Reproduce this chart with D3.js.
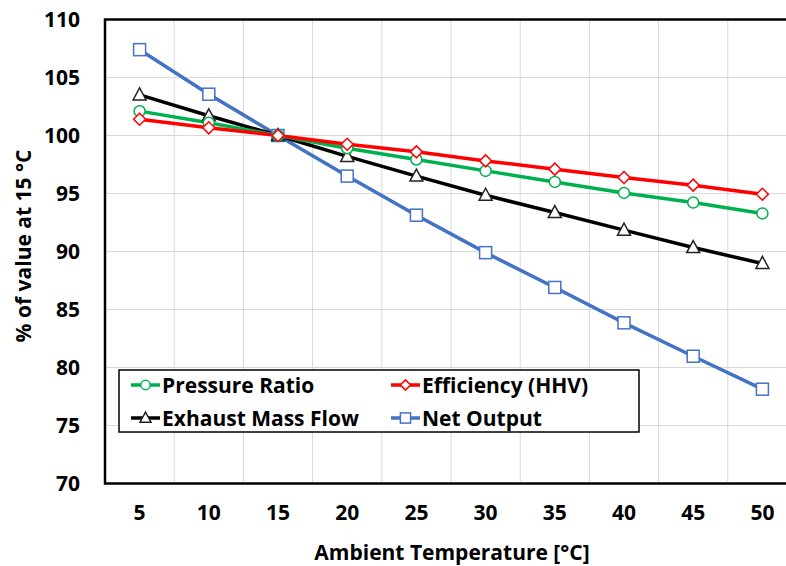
<!DOCTYPE html>
<html><head><meta charset="utf-8">
<script src="https://cdn.jsdelivr.net/npm/d3@7"></script>
<style>html,body{margin:0;padding:0;background:#fff;overflow:hidden}</style>
</head><body>
<svg id="c" width="786" height="566"></svg>
<script>
const temps = [5,10,15,20,25,30,35,40,45,50];
const pressureRatio = [102.1,101.1,100,98.9,97.93,96.95,96.0,95.05,94.22,93.28];
const efficiency = [101.4,100.66,100,99.25,98.59,97.81,97.1,96.38,95.72,94.94];
const exhaustFlow = [103.5,101.7,100,98.2,96.5,94.85,93.36,91.84,90.34,88.97];
const netOutput = [107.4,103.56,100,96.5,93.13,89.9,86.9,83.85,80.97,78.13];
const yTicks = [70,75,80,85,90,95,100,105,110];
const seriesNames = ["Pressure Ratio","Efficiency (HHV)","Exhaust Mass Flow","Net Output"];
const seriesColors = ["#00B050","#FF0000","#000000","#4472C4"];
const seriesMarkers = ["circle","diamond","triangle","square"];
const seriesValues = [pressureRatio, efficiency, exhaustFlow, netOutput];

const font = "'Open Sans', sans-serif";
const svg = d3.select("#c");
const L=105, R=797, T=19.5, B=483.5;
const x = d3.scaleBand().domain(temps).range([L,R]);
const y = d3.scaleLinear().domain([70,110]).range([B,T]);

// gridlines
const g = svg.append("g");
g.selectAll(".hg").data(yTicks).join("line")
  .attr("x1",L).attr("x2",R).attr("y1",d=>y(d)).attr("y2",d=>y(d))
  .attr("stroke","#d9d9d9").attr("stroke-width",1);
g.selectAll(".vg").data(temps.slice(1)).join("line")
  .attr("x1",d=>x(d)).attr("x2",d=>x(d)).attr("y1",T).attr("y2",B)
  .attr("stroke","#d9d9d9").attr("stroke-width",1);

// axes
const yAxis = d3.axisLeft(y).tickValues(yTicks).tickSize(0).tickPadding(25);
const ya = svg.append("g").attr("transform",`translate(${L},0)`).call(yAxis);
ya.select(".domain").remove();
ya.selectAll("text").attr("font-family",font).attr("font-weight","bold").attr("font-size",21).attr("fill","#000");

const xAxis = d3.axisBottom(x).tickSize(0).tickPadding(22);
const xa = svg.append("g").attr("transform",`translate(0,${B})`).call(xAxis);
xa.select(".domain").remove();
xa.selectAll("text").attr("font-family",font).attr("font-weight","bold").attr("font-size",21).attr("fill","#000");

// border
svg.append("rect").attr("x",L).attr("y",T).attr("width",R-L).attr("height",B-T)
  .attr("fill","none").attr("stroke","#000").attr("stroke-width",2.5);

// markers
function drawMarker(sel, type, color, cx, cy, s){
  if(type==="circle") sel.append("circle").attr("cx",cx).attr("cy",cy).attr("r",5.5*s)
    .attr("fill","#fff").attr("stroke",color).attr("stroke-width",1.5);
  else if(type==="square") sel.append("rect").attr("x",cx-6*s).attr("y",cy-6*s).attr("width",12*s).attr("height",12*s)
    .attr("fill","#fff").attr("stroke",color).attr("stroke-width",1.5);
  else if(type==="diamond") sel.append("path").attr("d",`M${cx},${cy-6*s}L${cx+6*s},${cy}L${cx},${cy+6*s}L${cx-6*s},${cy}Z`)
    .attr("fill","#fff").attr("stroke",color).attr("stroke-width",1.5);
  else if(type==="triangle") sel.append("path").attr("d",`M${cx},${cy-7*s}L${cx+6.5*s},${cy+5*s}L${cx-6.5*s},${cy+5*s}Z`)
    .attr("fill","#fff").attr("stroke",color==="#000000"?"#222":color).attr("stroke-width",1.5);
}

const cx = d=>x(d)+x.bandwidth()/2;
const line = d3.line().x((v,i)=>cx(temps[i])).y(v=>y(v));
const order = [3,2,0,1];
order.forEach(k=>{
  svg.append("path").datum(seriesValues[k]).attr("d",line)
    .attr("fill","none").attr("stroke",seriesColors[k]).attr("stroke-width",3.5);
});
order.forEach(k=>{
  const mg = svg.append("g");
  seriesValues[k].forEach((v,i)=>drawMarker(mg, seriesMarkers[k], seriesColors[k], cx(temps[i]), y(v), 1));
});

// legend
const lg = svg.append("g");
lg.append("rect").attr("x",119).attr("y",370).attr("width",520).attr("height",62)
  .attr("fill","#fff").attr("stroke","#000").attr("stroke-width",1.5);
const legPos = [[131,385],[391,385],[131,418],[391,418]];
seriesNames.forEach((n,k)=>{
  const [lx,ly] = legPos[k];
  lg.append("line").attr("x1",lx).attr("x2",lx+29).attr("y1",ly).attr("y2",ly)
    .attr("stroke",seriesColors[k]).attr("stroke-width",3.5);
  drawMarker(lg, seriesMarkers[k], seriesColors[k], lx+14.5, ly, 0.85);
  lg.append("text").attr("x",lx+31).attr("y",ly+8).text(n)
    .attr("font-family",font).attr("font-weight","bold").attr("font-size",21).attr("fill","#000");
});

// axis titles
svg.append("text").attr("x",452).attr("y",560).attr("text-anchor","middle")
  .attr("font-family",font).attr("font-weight","bold").attr("font-size",21).text("Ambient Temperature [°C]");
svg.append("text").attr("transform","translate(31,246) rotate(-90)").attr("text-anchor","middle")
  .attr("font-family",font).attr("font-weight","bold").attr("font-size",21).text("% of value at 15 °C");
</script>
</body></html>
